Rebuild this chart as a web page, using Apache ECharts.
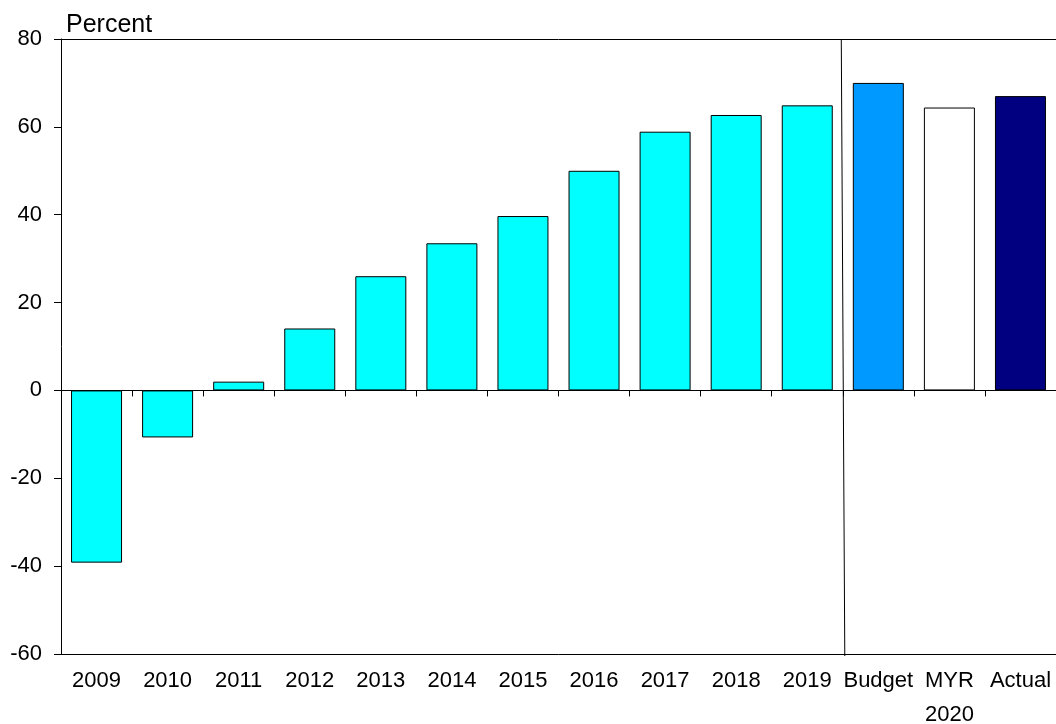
<!DOCTYPE html>
<html>
<head>
<meta charset="utf-8">
<script src="https://cdn.jsdelivr.net/npm/echarts@6/dist/echarts.min.js"></script>
<style>
html,body{margin:0;padding:0;background:#fff;}
#chart{width:1056px;height:724px;}
</style>
</head>
<body>
<div id="chart"></div>
<script>
const categories = ['2009','2010','2011','2012','2013','2014','2015','2016','2017','2018','2019','Budget','MYR\n2020','Actual'];
const values = [-39.2,-10.7,2.0,14.1,26.0,33.5,39.7,50.0,58.9,62.7,64.9,70.0,64.4,67.0];
const barColors = ['#00FFFF','#00FFFF','#00FFFF','#00FFFF','#00FFFF','#00FFFF','#00FFFF','#00FFFF','#00FFFF','#00FFFF','#00FFFF','#0099FF','#FFFFFF','#000080'];
const yMin = -60, yMax = 80, yStep = 20;
const yTitle = 'Percent';
const dividerAfter = 10; // divider between '2019' and 'Budget'

const FONT = '"Liberation Sans", Arial, Helvetica, sans-serif';
const chart = echarts.init(document.getElementById('chart'), null, {renderer:'canvas'});

const titleGraphic = {
  type: 'text',
  style: {text: yTitle, x: 66, y: 25.5, verticalAlign: 'middle', align: 'left', font: '25px ' + FONT, fill: '#000'}
};

const option = {
  animation: false,
  backgroundColor: '#ffffff',
  grid: {left: 61, right: 0, top: 39, bottom: 70, containLabel: false, outerBoundsMode: 'none'},
  graphic: [titleGraphic],
  xAxis: [{
    type: 'category', data: categories, position: 'bottom',
    axisLine: {onZero: false, lineStyle: {color: '#000', width: 1}},
    axisTick: {show: false},
    axisLabel: {interval: 0, margin: 10, fontSize: 22, lineHeight: 34, color: '#000', fontFamily: FONT}
  }, {
    type: 'category', data: categories, position: 'top',
    axisLine: {onZero: true, lineStyle: {color: '#000', width: 1}},
    axisTick: {show: true, inside: true, length: 6, lineStyle: {color: '#000'}},
    axisLabel: {show: false}
  }],
  yAxis: {
    type: 'value', min: yMin, max: yMax, interval: yStep,
    axisLine: {show: true, lineStyle: {color: '#000', width: 1}},
    axisTick: {show: true, length: 7, lineStyle: {color: '#000'}},
    axisLabel: {margin: 19, fontSize: 22, color: '#000', fontFamily: FONT},
    splitLine: {show: false}
  },
  series: [{
    type: 'bar', xAxisIndex: 0, barWidth: 51,
    data: values.map((v, i) => ({value: v, itemStyle: {color: barColors[i]}})),
    itemStyle: {borderColor: '#000', borderWidth: 1},
    markLine: {
      silent: true, symbol: 'none', label: {show: false},
      lineStyle: {type: 'solid', color: '#000', width: 1},
      data: [{yAxis: yMax}]
    }
  }]
};
chart.setOption(option);

const x1 = chart.convertToPixel({xAxisIndex: 0}, categories[dividerAfter]);
const x2 = chart.convertToPixel({xAxisIndex: 0}, categories[dividerAfter + 1]);
const xb = (x1 + x2) / 2;
const yTop = chart.convertToPixel({yAxisIndex: 0}, yMax);
const yBot = chart.convertToPixel({yAxisIndex: 0}, yMin);
chart.setOption({
  graphic: [titleGraphic, {
    type: 'line',
    shape: {x1: xb - 1.5, y1: yTop + 1, x2: xb + 2, y2: yBot + 2},
    style: {stroke: '#000', lineWidth: 1}
  }]
});
</script>
</body>
</html>
